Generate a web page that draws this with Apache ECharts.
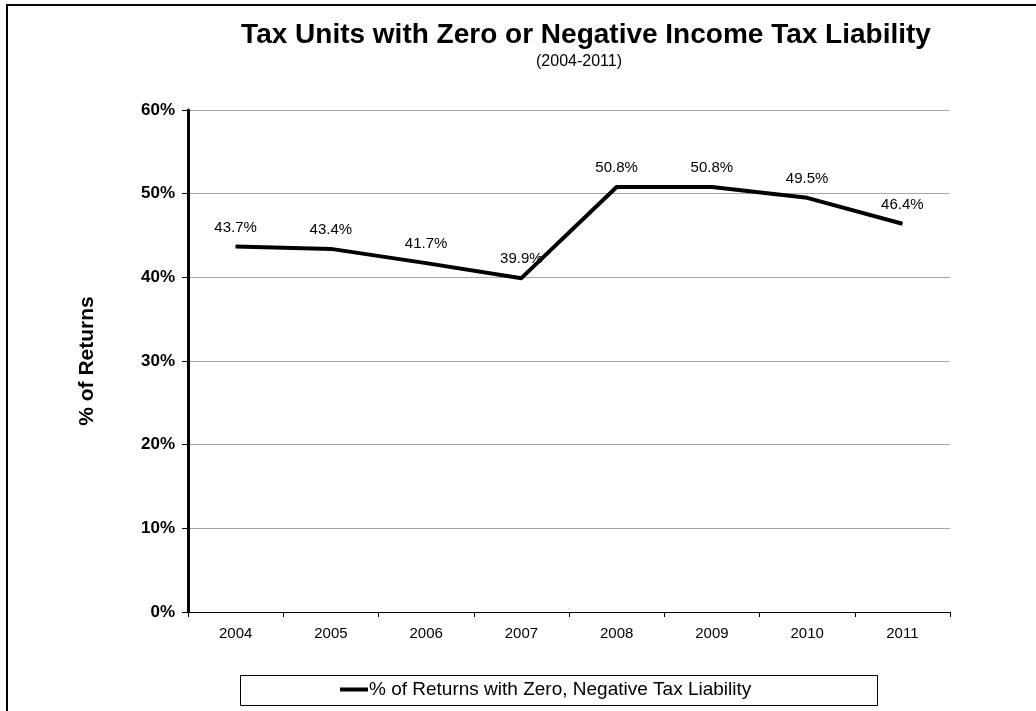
<!DOCTYPE html>
<html>
<head>
<meta charset="utf-8">
<script src="https://cdn.jsdelivr.net/npm/echarts@6/dist/echarts.min.js"></script>
<style>
  html, body { margin: 0; padding: 0; background: #fff; }
  #chart { width: 1036px; height: 711px; }
</style>
</head>
<body>
<div id="chart"></div>
<script>
// Tax units with zero or negative income tax liability, share of returns
const years = ['2004', '2005', '2006', '2007', '2008', '2009', '2010', '2011'];
const shareOfReturns = [43.7, 43.4, 41.7, 39.9, 50.8, 50.8, 49.5, 46.4];
const seriesName = '% of Returns with Zero, Negative Tax Liability';

const FONT = 'Arial, "Liberation Sans", sans-serif';

const chart = echarts.init(document.getElementById('chart'), null, { renderer: 'canvas' });

// legend box geometry
const BOX = { x: 240.5, y: 675.5, w: 637, h: 30 };

chart.setOption({
  backgroundColor: '#ffffff',
  animation: false,
  title: [
    {
      text: 'Tax Units with Zero or Negative Income Tax Liability',
      left: 581, top: 16, textAlign: 'center',
      textStyle: { fontFamily: FONT, fontSize: 28, fontWeight: 'bold', color: '#000' }
    },
    {
      text: '(2004-2011)',
      left: 574, top: 49, textAlign: 'center',
      textStyle: { fontFamily: FONT, fontSize: 16, fontWeight: 'normal', color: '#000' }
    }
  ],
  graphic: [
    {
      type: 'rect', silent: true, z: -1,
      shape: { x: 7, y: 5, width: 1100, height: 800 },
      style: { fill: 'none', stroke: '#000', lineWidth: 2 }
    },
    {
      type: 'rect', silent: true, z: -1,
      shape: { x: BOX.x, y: BOX.y, width: BOX.w, height: BOX.h },
      style: { fill: '#fff', stroke: '#000', lineWidth: 1 }
    }
  ],
  legend: {
    data: [seriesName],
    left: 340, top: 680,
    icon: 'rect', itemWidth: 28, itemHeight: 4,
    padding: 0,
    textStyle: { fontFamily: FONT, fontSize: 19, color: '#000', padding: [0, 0, 0, -4] }
  },
  grid: { left: 188, right: 86, top: 110, bottom: 99, containLabel: false },
  xAxis: {
    type: 'category',
    data: years,
    boundaryGap: true,
    axisLine: { lineStyle: { color: '#000', width: 1 } },
    axisTick: { show: true, length: 5, lineStyle: { color: '#000' } },
    axisLabel: { fontFamily: FONT, fontSize: 15, color: '#000', margin: 14 }
  },
  yAxis: {
    type: 'value',
    min: 0, max: 60, interval: 10,
    name: '% of Returns',
    nameLocation: 'middle',
    nameGap: 90,
    nameRotate: 90,
    nameTextStyle: { fontFamily: FONT, fontSize: 21, fontWeight: 'bold', color: '#000' },
    axisLine: { show: true, lineStyle: { color: '#000', width: 3 } },
    axisTick: { show: true, length: 6, lineStyle: { color: '#000', width: 1 } },
    axisLabel: {
      fontFamily: FONT, fontSize: 17, fontWeight: 'bold', color: '#000', margin: 13,
      formatter: v => v + '%'
    },
    splitLine: { show: true, lineStyle: { color: '#a6a6a6', width: 1 } }
  },
  series: [
    {
      name: seriesName,
      type: 'line',
      data: shareOfReturns,
      symbol: 'circle',
      symbolSize: 1,
      lineStyle: { color: '#000', width: 4, join: 'round' },
      itemStyle: { color: '#000' },
      label: {
        show: true, position: 'top', distance: 11,
        fontFamily: FONT, fontSize: 15, color: '#000',
        formatter: p => p.value.toFixed(1) + '%'
      }
    }
  ]
});
</script>
</body>
</html>
